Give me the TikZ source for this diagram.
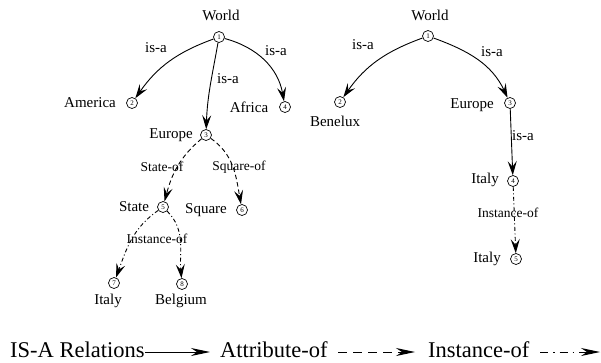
\documentclass[tikz,border=0pt]{standalone}
\usepackage{fontspec}
\setmainfont{Liberation Serif}
\usetikzlibrary{arrows.meta}
\tikzset{
  x=1pt,y=-1pt,
  num/.style={circle,draw,line width=0.7pt,minimum size=11pt,inner sep=0pt,font=\fontsize{7}{7}\selectfont},
  lbl/.style={inner sep=0pt,font=\fontsize{15}{17}\selectfont},
  elbl/.style={inner sep=0pt,font=\fontsize{15}{17}\selectfont},
  slbl/.style={inner sep=0pt,font=\fontsize{13.5}{15}\selectfont},
  leg/.style={inner sep=0pt,anchor=base,font=\fontsize{22.5}{26}\selectfont},
  tip/.style={-{Stealth[length=14pt,width=9pt,inset=5.5pt]}},
  isa/.style={tip,line width=0.9pt},
  attr/.style={tip,line width=0.9pt,dash pattern=on 4.5pt off 3pt},
  inst/.style={tip,line width=0.9pt,dash pattern=on 4pt off 2.5pt on 1pt off 2.5pt},
  legtip/.style={-{Stealth[length=19pt,width=8pt,inset=6pt]},line width=1pt},
}
\begin{document}
\begin{tikzpicture}
\useasboundingbox (0,0) rectangle (601,362);
% left tree
\node[num] (L1) at (219,37) {1};
\node[num] (L2) at (132,103) {2};
\node[num] (L3) at (206,135) {3};
\node[num] (L4) at (285,107) {4};
\node[num] (L5) at (163,207) {5};
\node[num] (L6) at (242,210) {6};
\node[num] (L7) at (114,283) {7};
\node[num] (L8) at (182,284) {8};
\node[lbl] (tW) at (221,15) {World};
\node[lbl] (tAm) at (90,103) {America};
\node[lbl] (tEu) at (171,135) {Europe};
\node[lbl] (tAf) at (249,107) {Africa};
\node[lbl] (tSt) at (134,207) {State};
\node[lbl] (tSq) at (206,210) {Square};
\node[lbl] (tIt) at (108,301) {Italy};
\node[lbl] (tBe) at (181,301) {Belgium};
\draw[isa] (L1) to[out=200,in=55] (L2);
\draw[isa] (L1) to[out=-100,in=88] (L3);
\draw[isa] (L1) to[out=-15,in=100] (L4);
\draw[attr] (L3) to[out=220,in=75] (L5);
\draw[attr] (L3) to[out=-35,in=100] (L6);
\draw[inst] (L5) to[out=215,in=70] (L7);
\draw[inst] (L5) to[out=-45,in=95] (L8);
\node[elbl] (e1) at (156,48) {is-a};
\node[elbl] (e2) at (228,79) {is-a};
\node[elbl] (e3) at (276,51) {is-a};
\node[slbl] (e4) at (162,167) {State-of};
\node[slbl] (e5) at (239,167) {Square-of};
\node[slbl] (e6) at (157,239) {Instance-of};
% right tree
\node[num] (R1) at (428,36) {1};
\node[num] (R2) at (340,102) {2};
\node[num] (R3) at (510,103) {3};
\node[num] (R4) at (513,181) {4};
\node[num] (R5) at (516,259) {5};
\node[lbl] (uW) at (430,15) {World};
\node[lbl] (uBe) at (335,121) {Benelux};
\node[lbl] (uEu) at (472,105) {Europe};
\node[lbl] (uIt1) at (485,180) {Italy};
\node[lbl] (uIt2) at (487,259) {Italy};
\draw[isa] (R1) to[out=200,in=55] (R2);
\draw[isa] (R1) to[out=-20,in=115] (R3);
\draw[isa] (R3) -- (R4);
\draw[inst] (R4) -- (R5);
\node[elbl] (f1) at (363,45) {is-a};
\node[elbl] (f2) at (492,52) {is-a};
\node[elbl] (f3) at (523,136) {is-a};
\node[slbl] (f4) at (508,213) {Instance-of};
% legend
\node[leg,anchor=base west] (g1) at (10,357) {IS-A Relations};
\node[leg,anchor=base west] (g2) at (220,357) {Attribute-of};
\node[leg,anchor=base west] (g3) at (428,357) {Instance-of};
\coordinate (a1s) at (145,352); \coordinate (a1e) at (210,352);
\coordinate (a2s) at (338,352); \coordinate (a2e) at (415,352);
\coordinate (a3s) at (540,352); \coordinate (a3e) at (600,352);
\draw[legtip] (a1s) -- (a1e);
\draw[legtip,dash pattern=on 9pt off 6pt] (a2s) -- (a2e);
\draw[legtip,dash pattern=on 8pt off 5pt on 1.5pt off 5pt] (a3s) -- (a3e);
\end{tikzpicture}
\end{document}
